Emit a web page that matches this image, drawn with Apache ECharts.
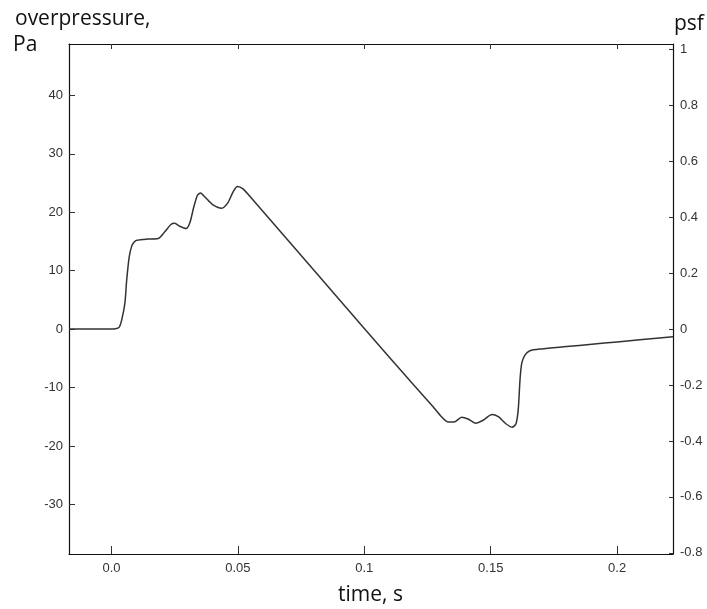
<!DOCTYPE html>
<html>
<head>
<meta charset="utf-8">
<style>html,body{margin:0;padding:0;background:#fff}#c{width:707px;height:609px}</style>
<script src="https://cdn.jsdelivr.net/npm/echarts@6/dist/echarts.min.js"></script>
</head>
<body>
<div id="c"></div>
<script>
// time, s
var times = [-0.0168, 0.0, 0.0015, 0.0030, 0.0040, 0.0053, 0.0060, 0.0070, 0.0080, 0.0090, 0.0100, 0.0140, 0.0185,
  0.0210, 0.0235, 0.0250, 0.0270, 0.0295, 0.0310, 0.0325, 0.0340, 0.0352, 0.0370, 0.0400, 0.0436, 0.0460, 0.0480, 0.0498, 0.0520,
  0.0560, 0.0800, 0.1000, 0.1200, 0.1272, 0.1305, 0.1330, 0.1355, 0.1385, 0.1410, 0.1440, 0.1470, 0.1505, 0.1530, 0.1560, 0.1585,
  0.1600, 0.1609, 0.1616, 0.1623, 0.1636, 0.1655, 0.1700, 0.1800, 0.1900, 0.2000, 0.2100, 0.2221];
// overpressure, Pa
var pressure = [0, 0, 0.05, 0.3, 1.5, 4.4, 8.3, 12.3, 14.2, 14.9, 15.2, 15.4, 15.5,
  16.6, 17.9, 18.1, 17.6, 17.2, 18.2, 20.8, 22.9, 23.3, 22.6, 21.3, 20.7, 21.6, 23.4, 24.4, 24.0,
  22.1, 10.1, 0.1, -9.8, -13.3, -15.0, -15.9, -15.9, -15.1, -15.4, -16.1, -15.6, -14.6, -15.0, -16.2, -16.8,
  -16.2, -13.7, -8.6, -5.8, -4.4, -3.7, -3.4, -3.0, -2.6, -2.2, -1.8, -1.3];

var xTicks = [0, 0.05, 0.1, 0.15, 0.2];
var xTickLabels = ['0.0', '0.05', '0.1', '0.15', '0.2'];
var paTicks = [-30, -20, -10, 0, 10, 20, 30, 40];
var psfTicks = [-0.8, -0.6, -0.4, -0.2, 0, 0.2, 0.4, 0.6, 0.8, 1];
var PA_PER_PSF = 47.88;
var paMin = -38.5, paMax = 48.8;

var data = times.map(function (t, i) { return [t, pressure[i]]; });

var chart = echarts.init(document.getElementById('c'), null, {renderer: 'canvas'});
var labelFont = {fontFamily: 'Liberation Sans, Arial, sans-serif', fontSize: 13, color: '#333'};
var axisLine = {show: true, onZero: false, lineStyle: {color: '#111', width: 1.2}};
var titleFont = {fontFamily: 'Open Sans', fontSize: 21, fontWeight: 'normal', color: '#111'};

chart.setOption({
  animation: false,
  backgroundColor: '#fff',
  grid: {left: 69, right: 34, top: 44, bottom: 55, containLabel: false},
  title: [
    {text: 'overpressure,', left: 10, top: 4, textStyle: titleFont},
    {text: 'Pa', left: 8, top: 30, textStyle: titleFont},
    {text: 'psf', left: 669, top: 9, textStyle: titleFont},
    {text: 'time, s', left: 333, top: 580, textStyle: titleFont}
  ],
  xAxis: [
    {type: 'value', position: 'bottom', min: times[0], max: times[times.length - 1],
     axisLine: axisLine, splitLine: {show: false},
     axisTick: {show: true, inside: true, length: 8, customValues: xTicks, lineStyle: {color: '#333'}},
     axisLabel: Object.assign({show: true, margin: 8, customValues: xTicks,
       formatter: function (v) { var i = xTicks.indexOf(v); return i >= 0 ? xTickLabels[i] : ''; }}, labelFont)},
    {type: 'value', position: 'top', min: times[0], max: times[times.length - 1],
     axisLine: axisLine, splitLine: {show: false},
     axisTick: {show: true, inside: true, length: 5, customValues: xTicks, lineStyle: {color: '#333'}},
     axisLabel: {show: false}}
  ],
  yAxis: [
    {type: 'value', position: 'left', min: paMin, max: paMax,
     axisLine: axisLine, splitLine: {show: false},
     axisTick: {show: true, inside: true, length: 6, customValues: paTicks, lineStyle: {color: '#333'}},
     axisLabel: Object.assign({show: true, margin: 6, customValues: paTicks}, labelFont)},
    {type: 'value', position: 'right', min: paMin / PA_PER_PSF, max: paMax / PA_PER_PSF,
     axisLine: axisLine, splitLine: {show: false},
     axisTick: {show: true, inside: true, length: 4, customValues: psfTicks, lineStyle: {color: '#333'}},
     axisLabel: Object.assign({show: true, margin: 7, customValues: psfTicks,
       formatter: function (v) { return String(Math.round(v * 10) / 10); }}, labelFont)}
  ],
  series: [{
    type: 'line', xAxisIndex: 0, yAxisIndex: 0, data: data,
    showSymbol: false, smooth: 0.25,
    lineStyle: {color: '#333', width: 1.5}
  }]
});
</script>
</body>
</html>
